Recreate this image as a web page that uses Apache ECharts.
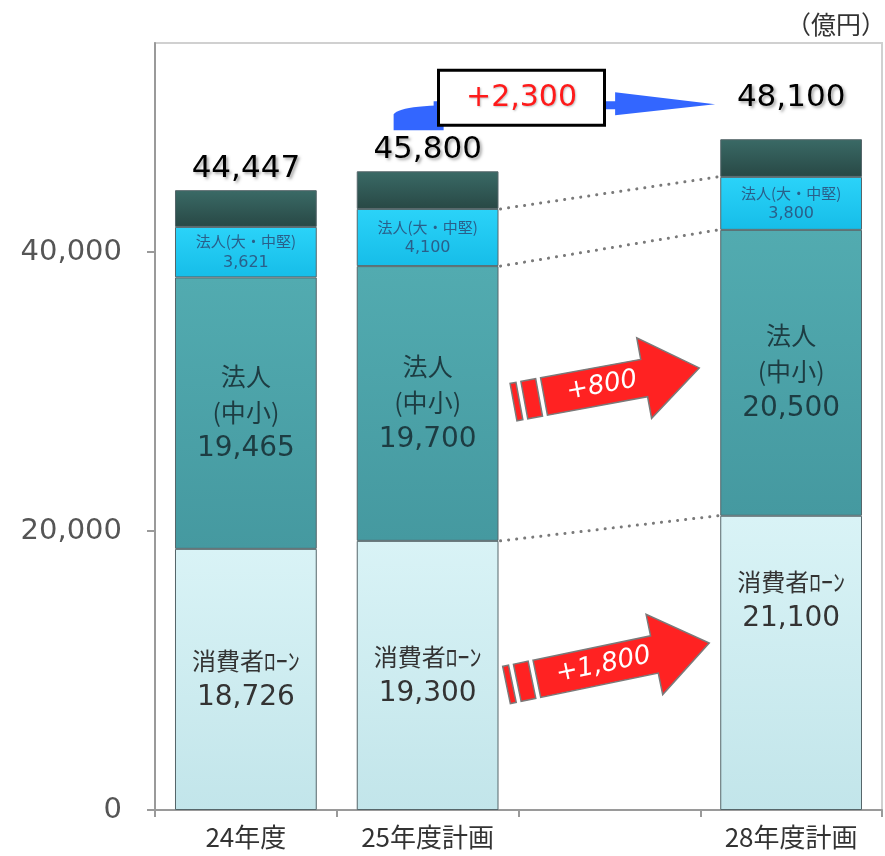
<!DOCTYPE html>
<html><head><meta charset="utf-8">
<script src="https://cdn.jsdelivr.net/npm/echarts@6/dist/echarts.min.js"></script>
<style>html,body{margin:0;padding:0;background:#fff}#c{width:885px;height:856px}</style>
</head><body><div id="c"></div>
<script>
const categories = ['24年度', '25年度計画', '', '28年度計画'];
const consumerLoan = [18726, 19300, null, 21100];
const corpSme = [19465, 19700, null, 20500];
const corpLarge = [3621, 4100, null, 3800];
const otherPart = [2635, 2700, null, 2700];
const totals = [44447, 45800, null, 48100];
const yTickValues = [0, 20000, 40000];
const arrowSme = { text: '+800', from: 29250, to: 31700 };
const arrowConsumer = { text: '+1,800', from: 8960, to: 11970 };
const totalChange = '+2,300';
const unitText = '（億円）';

const NUM = 'DejaVu Sans, Noto Sans CJK JP, sans-serif';
const JP = 'Noto Sans CJK JP, sans-serif';
const fmt = v => v.toLocaleString('en-US');
const grad = (a, b) => new echarts.graphic.LinearGradient(0, 0, 0, 1, [{offset: 0, color: a}, {offset: 1, color: b}]);

const chart = echarts.init(document.getElementById('c'), null, {renderer: 'canvas'});
const border = {borderColor: '#56666a', borderWidth: 1};

chart.setOption({
  animation: false,
  grid: {left: 155, right: 3, top: 43, bottom: 46, show: true, borderColor: '#d0d0d0', borderWidth: 2, outerBoundsMode: 'none'},
  xAxis: {
    type: 'category', data: categories,
    axisLine: {lineStyle: {color: '#9a9a9a', width: 2}},
    axisTick: {show: true, length: 7, lineStyle: {color: '#9a9a9a', width: 2}},
    axisLabel: {color: '#333', fontSize: 26, fontFamily: JP, margin: 14}
  },
  yAxis: {
    type: 'value', min: 0, max: 55000, interval: 20000,
    axisLine: {show: true, lineStyle: {color: '#9a9a9a', width: 2}},
    axisTick: {show: true, length: 8, lineStyle: {color: '#9a9a9a', width: 2}, customValues: yTickValues},
    axisLabel: {color: '#555', fontSize: 29, fontFamily: NUM, margin: 33, customValues: yTickValues,
      formatter: v => fmt(v)},
    splitLine: {show: false}
  },
  series: [
    {
      name: '消費者ﾛｰﾝ', type: 'bar', stack: 's', barWidth: '78%',
      data: consumerLoan.map((v, i) => ({value: v, label: {offset: i === 3 ? [0, -62] : [0, 0]}})),
      itemStyle: Object.assign({color: grad('#d9f3f6', '#c2e5ea')}, border),
      label: {show: true, position: 'inside', formatter: p => '{a|消費者ﾛｰﾝ}\n{n|' + fmt(p.value) + '}',
        rich: {a: {fontSize: 24, fontFamily: JP, color: '#333', lineHeight: 36}, n: {fontSize: 28, fontFamily: NUM, color: '#333', lineHeight: 38}}}
    },
    {
      name: '法人(中小)', type: 'bar', stack: 's',
      data: corpSme,
      itemStyle: Object.assign({color: grad('#52abb0', '#4599a0')}, border),
      label: {show: true, position: 'inside', formatter: p => '{a|法人}\n{a|(中小)}\n{n|' + fmt(p.value) + '}',
        rich: {a: {fontSize: 25, fontFamily: JP, color: '#1d3c42', lineHeight: 36}, n: {fontSize: 28, fontFamily: NUM, color: '#1d3c42', lineHeight: 38}}}
    },
    {
      name: '法人(大・中堅)', type: 'bar', stack: 's',
      data: corpLarge,
      itemStyle: Object.assign({color: grad('#2bd3f9', '#16bde8')}, border),
      label: {show: true, position: 'inside', formatter: p => '{a|法人(大・中堅)}\n{n|' + fmt(p.value) + '}',
        rich: {a: {fontSize: 15, fontFamily: JP, color: '#2a5f8a', lineHeight: 21}, n: {fontSize: 16, fontFamily: NUM, color: '#2a5f8a', lineHeight: 21}}}
    },
    {
      name: 'その他', type: 'bar', stack: 's',
      data: otherPart.map((v, i) => ({value: v, label: {distance: i === 3 ? 26 : 6}})),
      itemStyle: Object.assign({color: grad('#3a6a66', '#284845')}, border),
      label: {show: true, position: 'top', formatter: p => fmt(totals[p.dataIndex]),
        fontSize: 31, fontFamily: NUM, color: '#000',
        textShadowColor: 'rgba(0,0,0,0.35)', textShadowBlur: 3, textShadowOffsetX: 2, textShadowOffsetY: 2}
    }
  ]
});

function px(ci, v) { return chart.convertToPixel({xAxisIndex: 0, yAxisIndex: 0}, [ci, v]); }
const catW = px(1, 0)[0] - px(0, 0)[0];
const half = catW * 0.78 / 2;
const graphics = [];

// dotted connector lines between 25年度計画 and 28年度計画
const cum = i => [consumerLoan[i] + corpSme[i] + corpLarge[i], consumerLoan[i] + corpSme[i], consumerLoan[i]];
const c25 = cum(1), c28 = cum(3);
for (let k = 0; k < 3; k++) {
  const a = px(1, c25[k]), b = px(3, c28[k]);
  graphics.push({type: 'line', shape: {x1: a[0] + half + 2, y1: a[1], x2: b[0] - half - 2, y2: b[1]},
    style: {stroke: '#7a7a7a', lineWidth: 3, lineDash: [0.1, 8], lineCap: 'round'}, z: 5});
}

function redArrow(cfg, tailDx, tipDx) {
  const t = px(1, cfg.from), e = px(3, cfg.to);
  const x0 = t[0] + half + tailDx, y0 = t[1];
  const x1 = e[0] - half - tipDx, y1 = e[1];
  const L = Math.hypot(x1 - x0, y1 - y0);
  const ang = Math.atan2(-(y1 - y0), x1 - x0);
  const h = 19, H = 41, hl = 56;
  const st = {fill: '#ff2222', stroke: '#7a7a7a', lineWidth: 1.5};
  graphics.push({type: 'group', x: x0, y: y0, rotation: ang, z: 10, children: [
    {type: 'rect', shape: {x: 0, y: -h, width: 6, height: 2 * h}, style: st},
    {type: 'rect', shape: {x: 11, y: -h, width: 15, height: 2 * h}, style: st},
    {type: 'polygon', shape: {points: [[31, -h], [L - hl, -h], [L - hl, -H], [L, 0], [L - hl, H], [L - hl, h], [31, h]]}, style: st},
    {type: 'text', x: (31 + L - hl) / 2 + 8, y: 0, style: {text: cfg.text, fill: '#fff', fontSize: 26, fontStyle: 'italic', fontFamily: NUM, align: 'center', verticalAlign: 'middle'}}
  ]});
}
redArrow(arrowSme, 15, 21);
redArrow(arrowConsumer, 8, 11);

// blue arrow and change box
const p25 = px(1, totals[1]), p28 = px(3, totals[3]);
const yc = p28[1] - 35;
const bx0 = p25[0] - 34;
const boxCx = (px(1, 0)[0] + px(2, 0)[0]) / 2 + 3;
const headX = p28[0] - 76;
const curvePts = [[bx0, yc + 26], [bx0, yc + 10]];
for (let s = 1; s <= 12; s++) {
  const t = s / 12;
  const qx = (1 - t) * (1 - t) * bx0 + 2 * (1 - t) * t * (bx0 + 6) + t * t * (bx0 + 50);
  const qy = (1 - t) * (1 - t) * (yc + 10) + 2 * (1 - t) * t * (yc + 2) + t * t * (yc + 1);
  curvePts.push([qx, qy]);
}
curvePts.push([bx0 + 50, yc + 26]);
graphics.push({type: 'polygon', shape: {points: curvePts}, style: {fill: '#3366ff'}, z: 8});
graphics.push({type: 'rect', shape: {x: bx0 + 40, y: yc - 3, width: headX - 100 - bx0 - 40 + 2, height: 8}, style: {fill: '#3366ff'}, z: 8});
graphics.push({type: 'polygon', shape: {points: [[headX - 100, yc - 12], [headX, yc], [headX - 100, yc + 11]]}, style: {fill: '#3366ff'}, z: 8});
graphics.push({type: 'rect', shape: {x: boxCx - 83, y: yc - 34, width: 166, height: 55}, style: {fill: '#fff', stroke: '#000', lineWidth: 3}, z: 9});
graphics.push({type: 'text', x: boxCx, y: yc - 6, style: {text: totalChange, fill: '#ff1a1a', fontSize: 30, fontFamily: NUM, align: 'center', verticalAlign: 'middle',
  textShadowColor: 'rgba(0,0,0,0.25)', textShadowBlur: 2, textShadowOffsetX: 1, textShadowOffsetY: 1}, z: 10});

// unit
graphics.push({type: 'text', x: 886, y: 24, style: {text: unitText, fill: '#333', fontSize: 25, fontFamily: JP, align: 'right', verticalAlign: 'middle'}, z: 10});

chart.setOption({graphic: graphics});
</script>
</body></html>
